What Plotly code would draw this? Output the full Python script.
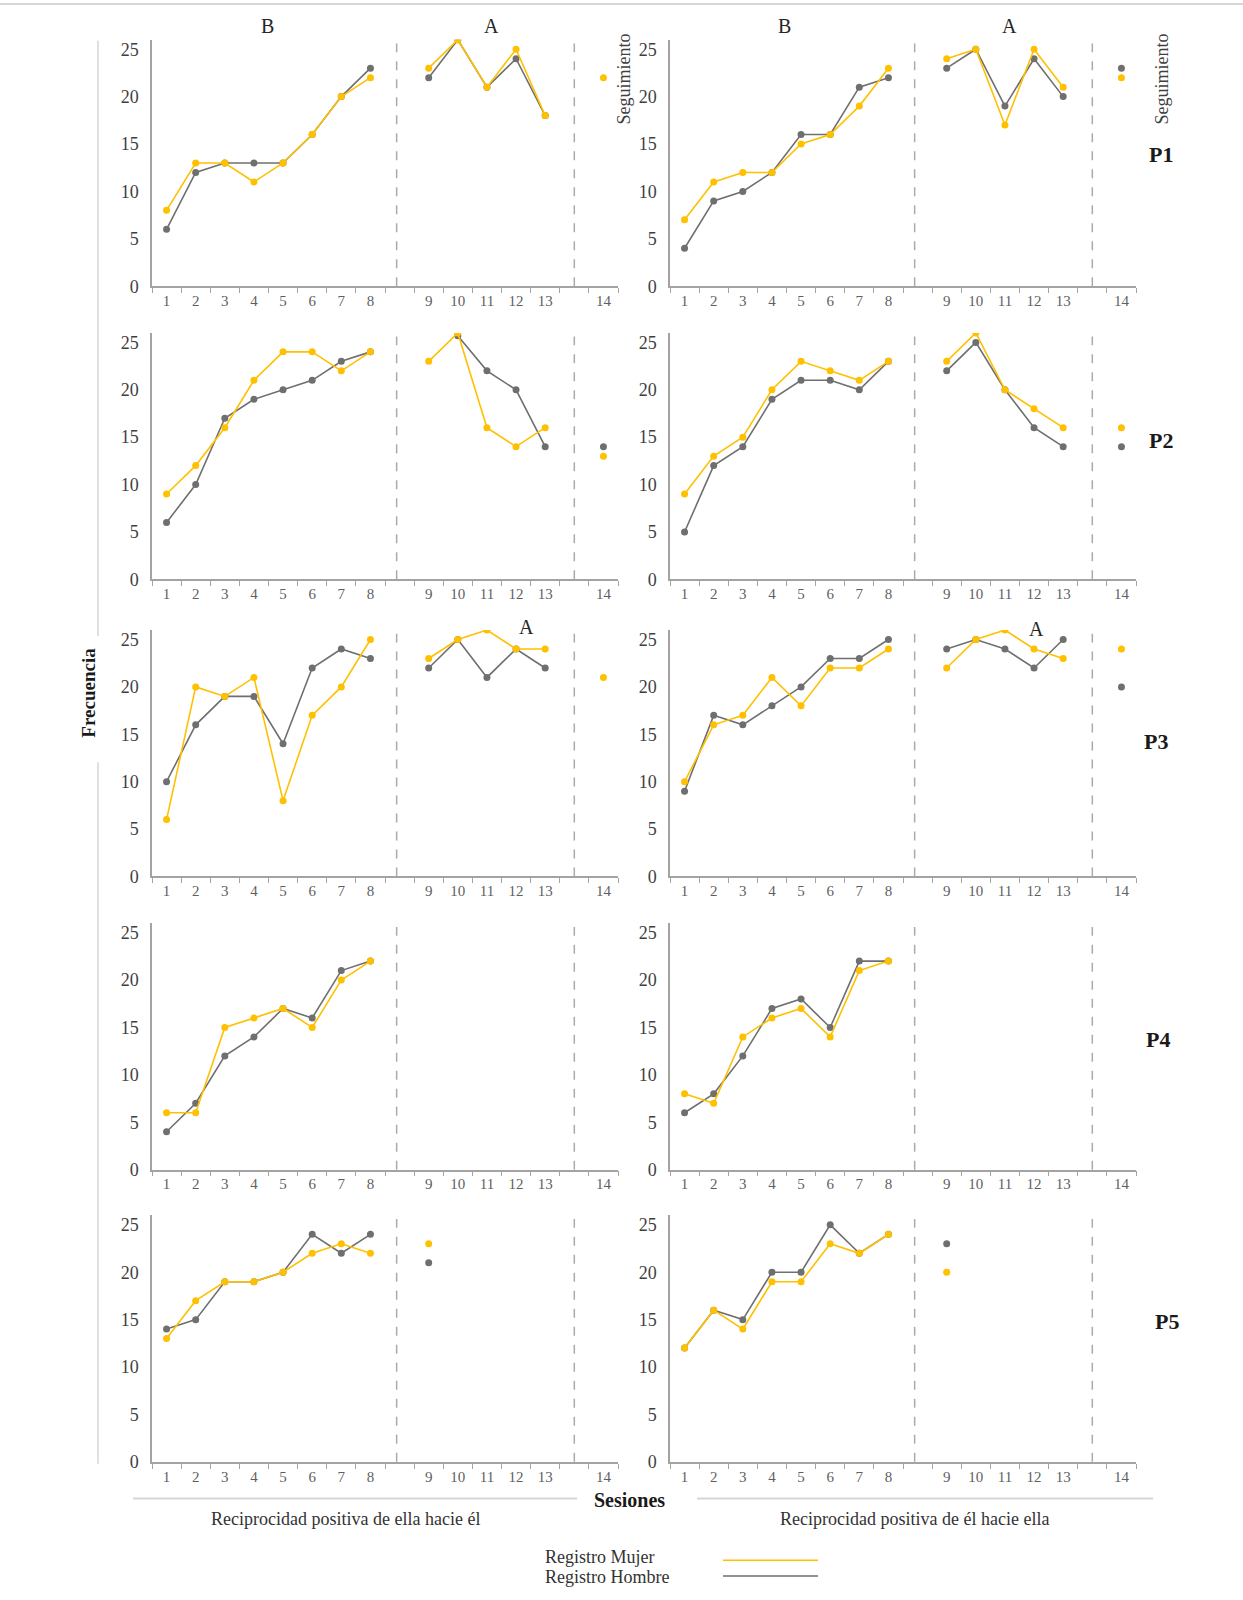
import plotly.graph_objects as go

W, H = 1243, 1600

sessions = list(range(1, 15))
session_labels = [str(s) for s in sessions]
participants = ["P1", "P2", "P3", "P4", "P5"]

# Reciprocidad positiva de ella hacia él (left column)
p1_ella_mujer = [8, 13, 13, 11, 13, 16, 20, 22, 23, 26, 21, 25, 18, 22]
p1_ella_hombre = [6, 12, 13, 13, 13, 16, 20, 23, 22, 26, 21, 24, 18, None]
p2_ella_mujer = [9, 12, 16, 21, 24, 24, 22, 24, 23, 26, 16, 14, 16, 13]
p2_ella_hombre = [6, 10, 17, 19, 20, 21, 23, 24, None, 25.7, 22, 20, 14, 14]
p3_ella_mujer = [6, 20, 19, 21, 8, 17, 20, 25, 23, 25, 26, 24, 24, 21]
p3_ella_hombre = [10, 16, 19, 19, 14, 22, 24, 23, 22, 25, 21, 24, 22, None]
p4_ella_mujer = [6, 6, 15, 16, 17, 15, 20, 22, None, None, None, None, None, None]
p4_ella_hombre = [4, 7, 12, 14, 17, 16, 21, 22, None, None, None, None, None, None]
p5_ella_mujer = [13, 17, 19, 19, 20, 22, 23, 22, 23, None, None, None, None, None]
p5_ella_hombre = [14, 15, 19, 19, 20, 24, 22, 24, 21, None, None, None, None, None]

# Reciprocidad positiva de él hacia ella (right column)
p1_el_mujer = [7, 11, 12, 12, 15, 16, 19, 23, 24, 25, 17, 25, 21, 22]
p1_el_hombre = [4, 9, 10, 12, 16, 16, 21, 22, 23, 25, 19, 24, 20, 23]
p2_el_mujer = [9, 13, 15, 20, 23, 22, 21, 23, 23, 26, 20, 18, 16, 16]
p2_el_hombre = [5, 12, 14, 19, 21, 21, 20, 23, 22, 25, 20, 16, 14, 14]
p3_el_mujer = [10, 16, 17, 21, 18, 22, 22, 24, 22, 25, 26, 24, 23, 24]
p3_el_hombre = [9, 17, 16, 18, 20, 23, 23, 25, 24, 25, 24, 22, 25, 20]
p4_el_mujer = [8, 7, 14, 16, 17, 14, 21, 22, None, None, None, None, None, None]
p4_el_hombre = [6, 8, 12, 17, 18, 15, 22, 22, None, None, None, None, None, None]
p5_el_mujer = [12, 16, 14, 19, 19, 23, 22, 24, 20, None, None, None, None, None]
p5_el_hombre = [12, 16, 15, 20, 20, 25, 22, 24, 23, None, None, None, None, None]

left_mujer = [p1_ella_mujer, p2_ella_mujer, p3_ella_mujer, p4_ella_mujer, p5_ella_mujer]
left_hombre = [p1_ella_hombre, p2_ella_hombre, p3_ella_hombre, p4_ella_hombre, p5_ella_hombre]
right_mujer = [p1_el_mujer, p2_el_mujer, p3_el_mujer, p4_el_mujer, p5_el_mujer]
right_hombre = [p1_el_hombre, p2_el_hombre, p3_el_hombre, p4_el_hombre, p5_el_hombre]

# phases: B = sessions 1-8, A = 9-13, Seguimiento = 14
phases = [(1, 8), (9, 13), (14, 14)]

COL_MUJER = "#FFC000"
COL_HOMBRE = "#6F6F6F"
AXIS_COL = "#A3A3A3"
SERIF = "Liberation Serif"


def slot(s):
    # one blank slot after session 8 and after session 13
    return s + (s > 8) + (s > 13)


def px(xp):
    return xp / W


def py(yp):
    return 1 - yp / H


# panel geometry (pixels)
col_x = [(152, 618), (670, 1136)]
row_y0 = [288, 583, 882, 1177, 1471]
plot_h = 248

fig = go.Figure()
layout = {}
shapes = []
annotations = []

idx = 0
for r in range(5):
    for c in range(2):
        idx += 1
        xname = "xaxis" if idx == 1 else f"xaxis{idx}"
        yname = "yaxis" if idx == 1 else f"yaxis{idx}"
        xref = "x" if idx == 1 else f"x{idx}"
        yref = "y" if idx == 1 else f"y{idx}"
        x0, x1 = col_x[c]
        y0 = row_y0[r]
        layout[xname] = dict(
            domain=[px(x0), px(x1)], anchor=yref, range=[0.5, 16.5],
            tickmode="array", tickvals=[slot(s) for s in sessions], ticktext=session_labels,
            ticks="", showline=True, linecolor=AXIS_COL, linewidth=1.5,
            showgrid=False, zeroline=False, ticklabelstandoff=0,
            tickfont=dict(family=SERIF, size=15, color="#5F5F5F"),
            minor=dict(ticks="outside", tick0=0.5, dtick=1, ticklen=5,
                       tickcolor=AXIS_COL, tickwidth=1.2, showgrid=False),
        )
        layout[yname] = dict(
            domain=[py(y0), py(y0 - plot_h)], anchor=xref, range=[0, 26],
            tickmode="array", tickvals=[0, 5, 10, 15, 20, 25],
            ticks="", showline=True, linecolor=AXIS_COL, linewidth=1.5,
            showgrid=False, zeroline=False, ticklabelstandoff=8,
            tickfont=dict(family=SERIF, size=18, color="#3F3F3F"),
        )
        mujer = (left_mujer if c == 0 else right_mujer)[r]
        hombre = (left_hombre if c == 0 else right_hombre)[r]
        for vals, color, name in ((hombre, COL_HOMBRE, "Registro Hombre"),
                                  (mujer, COL_MUJER, "Registro Mujer")):
            for a, b in phases:
                ss = [s for s in sessions if a <= s <= b and vals[s - 1] is not None]
                if not ss:
                    continue
                fig.add_trace(go.Scatter(
                    x=[slot(s) for s in ss], y=[vals[s - 1] for s in ss],
                    mode="lines+markers", name=name, showlegend=False,
                    line=dict(color=color, width=1.6),
                    marker=dict(color=color, size=7),
                    xaxis=xref, yaxis=yref, hoverinfo="skip",
                ))
        # phase-change lines
        for xv in (8.9, 15.0):
            shapes.append(dict(type="line", xref=xref, yref=f"{yref} domain",
                               x0=xv, x1=xv, y0=0, y1=0.985,
                               line=dict(color="#AAAAAA", width=1.5, dash="dash")))


def label(text, x, y, size, bold=False, angle=0, color="#262626", anchor="center"):
    annotations.append(dict(
        text=f"<b>{text}</b>" if bold else text, xref="paper", yref="paper",
        x=px(x), y=py(y), xanchor=anchor, yanchor="middle", showarrow=False,
        textangle=angle, font=dict(family=SERIF, size=size, color=color)))


# phase headers
label("B", 267, 26, 20)
label("A", 491, 26, 20)
label("B", 784, 26, 20)
label("A", 1009, 26, 20)
label("A", 526, 631, 20)
label("A", 1036, 633, 20)
label("Seguimiento", 623, 80, 18, angle=-90, color="#404040")
label("Seguimiento", 1161, 80, 18, angle=-90, color="#404040")

# participant labels
p_pos = [(1161, 155), (1161, 443), (1156, 746), (1158, 1046), (1167, 1330)]
for name, (x, y) in zip(participants, p_pos):
    label(name, x, y, 22, bold=True, color="#1A1A1A")

label("Frecuencia", 89, 697, 19, bold=True, angle=-90, color="#1A1A1A")
label("Sesiones", 629, 1509, 20, bold=True, color="#1A1A1A")
label("Reciprocidad positiva de ella hacie él", 345, 1529, 18, color="#333333")
label("Reciprocidad positiva de él hacie ella", 914, 1529, 18, color="#333333")

# legend
label("Registro Mujer", 543, 1567, 18, color="#333333", anchor="left")
label("Registro Hombre", 543, 1587, 18, color="#333333", anchor="left")
for yy, col in ((1570, COL_MUJER), (1586, COL_HOMBRE)):
    shapes.append(dict(type="line", xref="paper", yref="paper",
                       x0=px(723), x1=px(818), y0=py(yy), y1=py(yy),
                       line=dict(color=col, width=1.5)))

# frame lines
frame = [
    ((0, 4), (W, 4), 2),
    ((98, 41), (98, 640), 1.5),
    ((98, 767), (98, 1473), 1.5),
    ((133, 1508), (577, 1508), 2),
    ((697, 1508), (1153, 1508), 2),
]
for (xa, ya), (xb, yb), w in frame:
    shapes.append(dict(type="line", xref="paper", yref="paper",
                       x0=px(xa), x1=px(xb), y0=py(ya), y1=py(yb),
                       line=dict(color="#D6D6D6", width=w)))

fig.update_layout(
    width=W, height=H, margin=dict(l=0, r=0, t=0, b=0),
    paper_bgcolor="white", plot_bgcolor="white",
    showlegend=False, shapes=shapes, annotations=annotations,
    **layout,
)

fig.write_html("out.html")
